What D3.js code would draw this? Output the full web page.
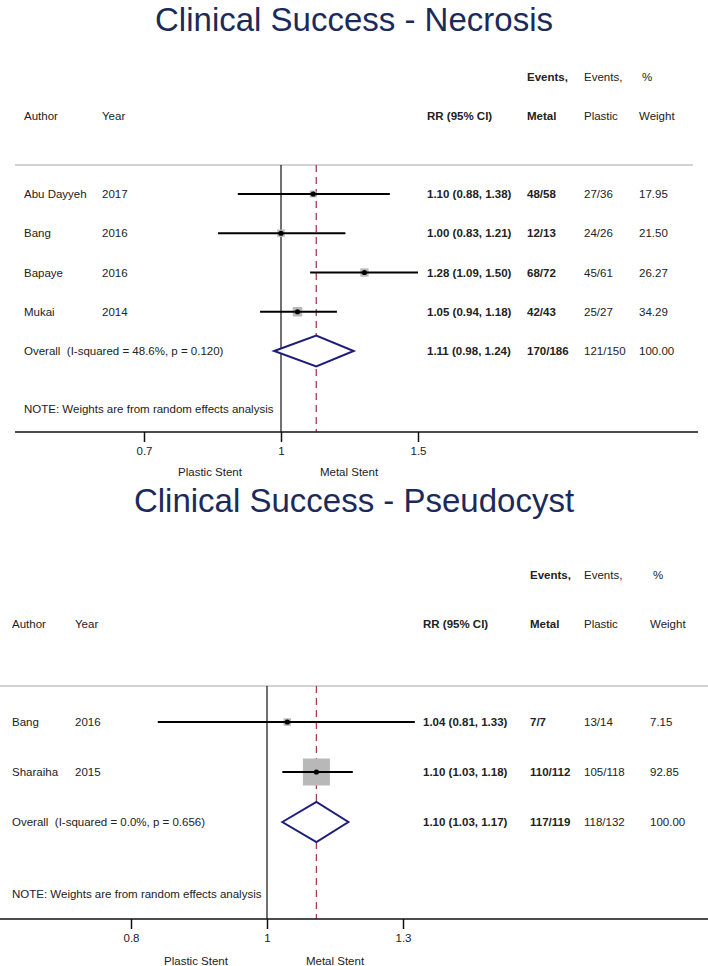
<!DOCTYPE html>
<html>
<head>
<meta charset="utf-8">
<script src="https://cdn.jsdelivr.net/npm/d3@7"></script>
<style>
  body { margin: 0; background: #fff; }
  svg { display: block; }
  text { font-family: "Liberation Sans", Arial, sans-serif; fill: #222; white-space: pre; }
  .title { fill: #1c2a5a; font-size: 33px; }
  .tick text { font-size: 11.5px; fill: #222; }
</style>
</head>
<body>
<script>
// ---- Necrosis data ----
const necAuthors = ["Abu Dayyeh", "Bang", "Bapaye", "Mukai"];
const necYears = ["2017", "2016", "2016", "2014"];
const necRR = [1.10, 1.00, 1.28, 1.05];
const necLow = [0.88, 0.83, 1.09, 0.94];
const necHigh = [1.38, 1.21, 1.50, 1.18];
const necMetal = ["48/58", "12/13", "68/72", "42/43"];
const necPlastic = ["27/36", "24/26", "45/61", "25/27"];
const necWeight = [17.95, 21.50, 26.27, 34.29];
const necOverall = [1.11, 0.98, 1.24];            // rr, low, high
const necOverallCounts = ["170/186", "121/150", "100.00"];
const necOverallLabel = "Overall  (I-squared = 48.6%, p = 0.120)";
const necTicks = [1 / 1.5, 1, 1.5];
const necTickLabels = ["0.7", "1", "1.5"];

// ---- Pseudocyst data ----
const pseAuthors = ["Bang", "Sharaiha"];
const pseYears = ["2016", "2015"];
const pseRR = [1.04, 1.10];
const pseLow = [0.81, 1.03];
const pseHigh = [1.33, 1.18];
const pseMetal = ["7/7", "110/112"];
const psePlastic = ["13/14", "105/118"];
const pseWeight = [7.15, 92.85];
const pseOverall = [1.10, 1.03, 1.17];
const pseOverallCounts = ["117/119", "118/132", "100.00"];
const pseOverallLabel = "Overall  (I-squared = 0.0%, p = 0.656)";
const pseTicks = [1 / 1.3, 1, 1.3];
const pseTickLabels = ["0.8", "1", "1.3"];

const W = 708, H = 966;
const svg = d3.select("body").append("svg").attr("width", W).attr("height", H);

function drawPanel(title, d, L) {
  const g = svg.append("g");
  const fmt = d3.format(".2f");

  // title
  g.append("text").attr("class", "title")
    .attr("x", W / 2).attr("y", L.titleY).attr("text-anchor", "middle").text(title);

  // header lines
  const hdr = (x, y, t, bold) => g.append("text").attr("x", x).attr("y", y)
    .attr("dy", "0.35em").style("font-size", "11.5px")
    .style("font-weight", bold ? "bold" : "normal").text(t);
  hdr(L.colMetal, L.hdr1Y, "Events,", true);
  hdr(L.colPlastic, L.hdr1Y, "Events,", false);
  hdr(L.colWeight + 3, L.hdr1Y, "%", false);
  hdr(L.colAuthor, L.hdr2Y, "Author", false);
  hdr(L.colYear, L.hdr2Y, "Year", false);
  hdr(L.colRR, L.hdr2Y, "RR (95% CI)", true);
  hdr(L.colMetal, L.hdr2Y, "Metal", true);
  hdr(L.colPlastic, L.hdr2Y, "Plastic", false);
  hdr(L.colWeight, L.hdr2Y, "Weight", false);

  // gray separator
  g.append("line").attr("x1", L.sepX[0]).attr("x2", L.sepX[1])
    .attr("y1", L.sepY).attr("y2", L.sepY)
    .attr("stroke", "#d2d2d2").attr("stroke-width", 2);

  // scales
  const x = d3.scaleLog().domain([d.ticks[0], d.ticks[2]]).range(L.xRange);
  const n = d.authors.length;
  const y = d3.scalePoint().domain(d3.range(n + 1)).range(L.rowY);
  const box = d3.scaleSqrt().domain([0, d3.max(d.weight)]).range([0, L.maxBox]);

  // null line and overall dashed line
  g.append("line").attr("x1", x(1)).attr("x2", x(1))
    .attr("y1", L.sepY).attr("y2", L.axisY).attr("stroke", "#111").attr("stroke-width", 1.2);
  g.append("line").attr("x1", x(d.overall[0])).attr("x2", x(d.overall[0]))
    .attr("y1", L.sepY).attr("y2", L.axisY)
    .attr("stroke", "#a3404d").attr("stroke-width", 1.3).attr("stroke-dasharray", "7,5");

  // study rows
  const rows = g.selectAll(".row").data(d3.range(n)).enter().append("g").attr("class", "row");
  rows.append("rect")
    .attr("x", i => x(d.rr[i]) - box(d.weight[i]) / 2)
    .attr("y", i => y(i) - box(d.weight[i]) / 2)
    .attr("width", i => box(d.weight[i])).attr("height", i => box(d.weight[i]))
    .attr("fill", "#b8b8b8");
  rows.append("line")
    .attr("x1", i => x(d.low[i])).attr("x2", i => x(d.high[i]))
    .attr("y1", i => y(i)).attr("y2", i => y(i))
    .attr("stroke", "#000").attr("stroke-width", 2);
  rows.append("circle").attr("cx", i => x(d.rr[i])).attr("cy", i => y(i))
    .attr("r", 2.6).attr("fill", "#000");

  const rowText = (xx, f, bold) => rows.append("text").attr("x", xx).attr("y", i => y(i))
    .attr("dy", "0.35em").style("font-size", "11.5px")
    .style("font-weight", bold ? "bold" : "normal").text(f);
  rowText(L.colAuthor, i => d.authors[i], false);
  rowText(L.colYear, i => d.years[i], false);
  rowText(L.colRR, i => fmt(d.rr[i]) + " (" + fmt(d.low[i]) + ", " + fmt(d.high[i]) + ")", true);
  rowText(L.colMetal, i => d.metal[i], true);
  rowText(L.colPlastic, i => d.plastic[i], false);
  rowText(L.colWeight, i => fmt(d.weight[i]), false);

  // overall diamond
  const oy = y(n), o = d.overall;
  g.append("path")
    .attr("d", d3.line()([[x(o[1]), oy], [x(o[0]), oy - L.diaH], [x(o[2]), oy], [x(o[0]), oy + L.diaH]]) + "Z")
    .attr("fill", "#fff").attr("stroke", "#1d1d7a").attr("stroke-width", 2);
  const ot = (xx, t, bold) => g.append("text").attr("x", xx).attr("y", oy).attr("dy", "0.35em")
    .style("font-size", "11.5px").style("font-weight", bold ? "bold" : "normal").text(t);
  ot(L.colAuthor, d.overallLabel, false);
  ot(L.colRR, fmt(o[0]) + " (" + fmt(o[1]) + ", " + fmt(o[2]) + ")", true);
  ot(L.colMetal, d.overallCounts[0], true);
  ot(L.colPlastic, d.overallCounts[1], false);
  ot(L.colWeight, d.overallCounts[2], false);

  // note
  g.append("text").attr("x", L.colAuthor).attr("y", L.noteY).attr("dy", "0.35em")
    .style("font-size", "11.5px").text("NOTE: Weights are from random effects analysis");

  // axis
  g.append("line").attr("x1", L.axisX[0]).attr("x2", L.axisX[1])
    .attr("y1", L.axisY).attr("y2", L.axisY).attr("stroke", "#111").attr("stroke-width", 1.5);
  g.append("g").attr("transform", "translate(0," + L.axisY + ")")
    .call(d3.axisBottom(x).tickValues(d.ticks)
      .tickFormat((v, i) => d.tickLabels[i]).tickSize(10).tickPadding(5))
    .call(a => a.select(".domain").remove())
    .call(a => a.selectAll(".tick line").attr("stroke", "#111").attr("stroke-width", 1.5));

  g.append("text").attr("x", x(1) - 71).attr("y", L.lblY).attr("dy", "0.35em")
    .attr("text-anchor", "middle").style("font-size", "11.5px").text("Plastic Stent");
  g.append("text").attr("x", x(1) + 68).attr("y", L.lblY).attr("dy", "0.35em")
    .attr("text-anchor", "middle").style("font-size", "11.5px").text("Metal Stent");
}

drawPanel("Clinical Success - Necrosis", {
  authors: necAuthors, years: necYears, rr: necRR, low: necLow, high: necHigh,
  metal: necMetal, plastic: necPlastic, weight: necWeight,
  overall: necOverall, overallCounts: necOverallCounts, overallLabel: necOverallLabel,
  ticks: necTicks, tickLabels: necTickLabels
}, {
  titleY: 31, hdr1Y: 77, hdr2Y: 116, sepY: 165, sepX: [15, 693],
  rowY: [194, 351], noteY: 409, axisY: 432, axisX: [15, 698], lblY: 472,
  xRange: [144, 418], maxBox: 9.5, diaH: 15.5,
  colAuthor: 24, colYear: 102, colRR: 427, colMetal: 527, colPlastic: 584, colWeight: 639
});

drawPanel("Clinical Success - Pseudocyst", {
  authors: pseAuthors, years: pseYears, rr: pseRR, low: pseLow, high: pseHigh,
  metal: pseMetal, plastic: psePlastic, weight: pseWeight,
  overall: pseOverall, overallCounts: pseOverallCounts, overallLabel: pseOverallLabel,
  ticks: pseTicks, tickLabels: pseTickLabels
}, {
  titleY: 512, hdr1Y: 575, hdr2Y: 624, sepY: 686, sepX: [0, 708],
  rowY: [722, 822], noteY: 894, axisY: 919, axisX: [0, 708], lblY: 961,
  xRange: [131, 403], maxBox: 27, diaH: 20,
  colAuthor: 12, colYear: 75, colRR: 423, colMetal: 530, colPlastic: 584, colWeight: 650
});
</script>
</body>
</html>
